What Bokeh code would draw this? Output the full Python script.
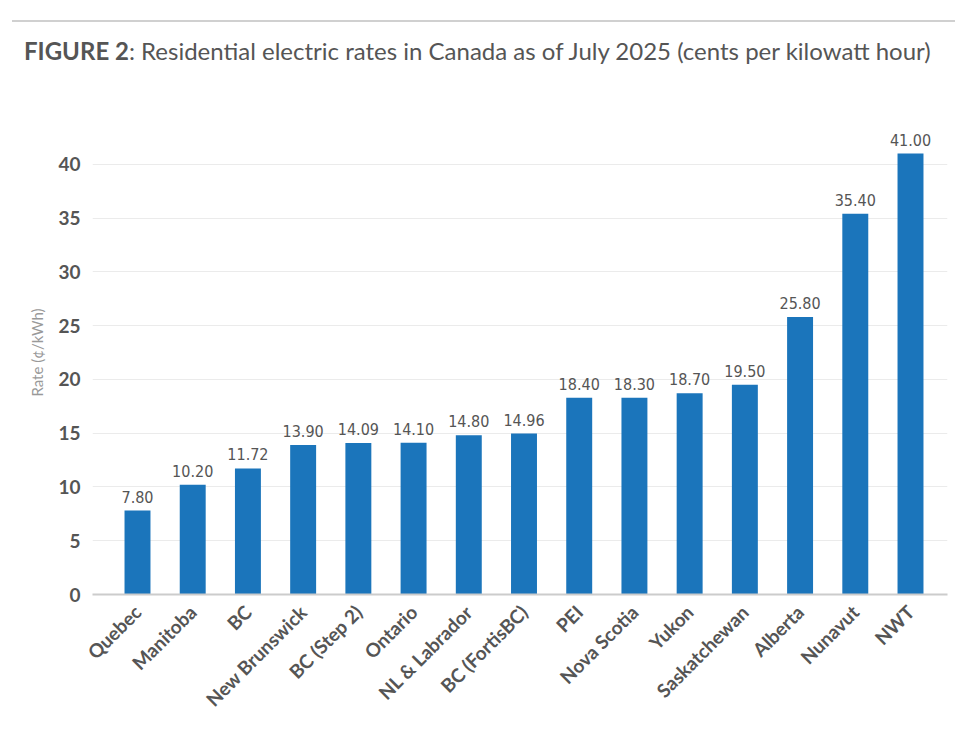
from bokeh.plotting import figure
from bokeh.models import Range1d, FixedTicker, ColumnDataSource, Div
from bokeh.layouts import column
from bokeh.core.properties import value
from bokeh.embed import file_html
from bokeh.resources import INLINE
import math

categories = ["Quebec", "Manitoba", "BC", "New Brunswick", "BC (Step 2)", "Ontario",
              "NL & Labrador", "BC (FortisBC)", "PEI", "Nova Scotia", "Yukon",
              "Saskatchewan", "Alberta", "Nunavut", "NWT"]
rates = [7.80, 10.20, 11.72, 13.90, 14.09, 14.10, 14.80, 14.96, 18.40, 18.30, 18.70,
         19.50, 25.80, 35.40, 41.00]
bar_heights = [7.80, 10.20, 11.72, 13.90, 14.09, 14.10, 14.80, 14.96, 18.30, 18.30, 18.70,
               19.50, 25.80, 35.40, 41.00]
y_ticks = [0, 5, 10, 15, 20, 25, 30, 35, 40]

idx = list(range(len(categories)))
src = ColumnDataSource(dict(x=idx, top=bar_heights, rate=rates,
                            lbl=["%.2f" % r for r in rates]))

title = Div(text=(
    '<div style="margin-left:12px;margin-top:20px;width:943px;border-top:2px solid #d0d0d0;'
    'padding-top:12px;padding-left:12px;font-family:Lato,sans-serif;'
    'font-size:24px;color:#555555;white-space:nowrap;">'
    '<b>FIGURE 2</b>: Residential electric rates in Canada as of July 2025 '
    '(cents per kilowatt hour)</div>'),
    width=960, height=77, styles={"margin": "0px"})

p = figure(width=960, height=657, output_backend="svg", toolbar_location=None,
           x_range=Range1d(-0.815, 14.67), y_range=Range1d(0, 45),
           min_border_left=92, min_border_right=13, min_border_top=33,
           min_border_bottom=140, outline_line_color=None)

p.vbar(x="x", top="top", width=0.47, bottom=0, source=src,
       fill_color="#1b75bb", line_color=None)
p.text(x="x", y="top", text="lbl", source=src, text_align="center",
       text_baseline="bottom", y_offset=-8,
       text_font=value("Liberation Sans Narrow, DejaVu Sans Condensed, Roboto"),
       text_font_style="normal", text_font_size="16px", text_color="#555555")

p.xaxis.ticker = FixedTicker(ticks=idx)
p.xaxis.major_label_overrides = {i: c for i, c in enumerate(categories)}
p.xaxis.major_label_orientation = math.pi / 4
p.xaxis.major_label_text_font = "Lato"
p.xaxis.major_label_text_font_size = "19px"
p.xaxis.major_label_text_color = "#555555"
p.xaxis.major_label_text_font_style = "bold"
p.xaxis.axis_line_color = "#cccccc"
p.xaxis.axis_line_width = 2
p.xaxis.major_tick_line_color = None
p.xaxis.minor_tick_line_color = None
p.xaxis.major_label_standoff = 8

p.yaxis.ticker = FixedTicker(ticks=y_ticks)
p.yaxis.axis_label = "Rate (¢/kWh)"
p.yaxis.axis_label_text_font = "Lato"
p.yaxis.axis_label_text_font_size = "15px"
p.yaxis.axis_label_text_font_style = "normal"
p.yaxis.axis_label_text_color = "#999999"
p.yaxis.axis_label_standoff = 9
p.yaxis.major_label_text_font = "Lato"
p.yaxis.major_label_text_font_size = "19px"
p.yaxis.major_label_text_font_style = "bold"
p.yaxis.major_label_text_color = "#555555"
p.yaxis.axis_line_color = None
p.yaxis.major_tick_line_color = None
p.yaxis.minor_tick_line_color = None
p.yaxis.major_label_standoff = 6

p.xgrid.grid_line_color = None
p.ygrid.grid_line_color = "#ebebeb"
p.ygrid.grid_line_width = 1

layout = column(title, p, spacing=0)
open("out.html", "w").write(file_html(layout, INLINE))
